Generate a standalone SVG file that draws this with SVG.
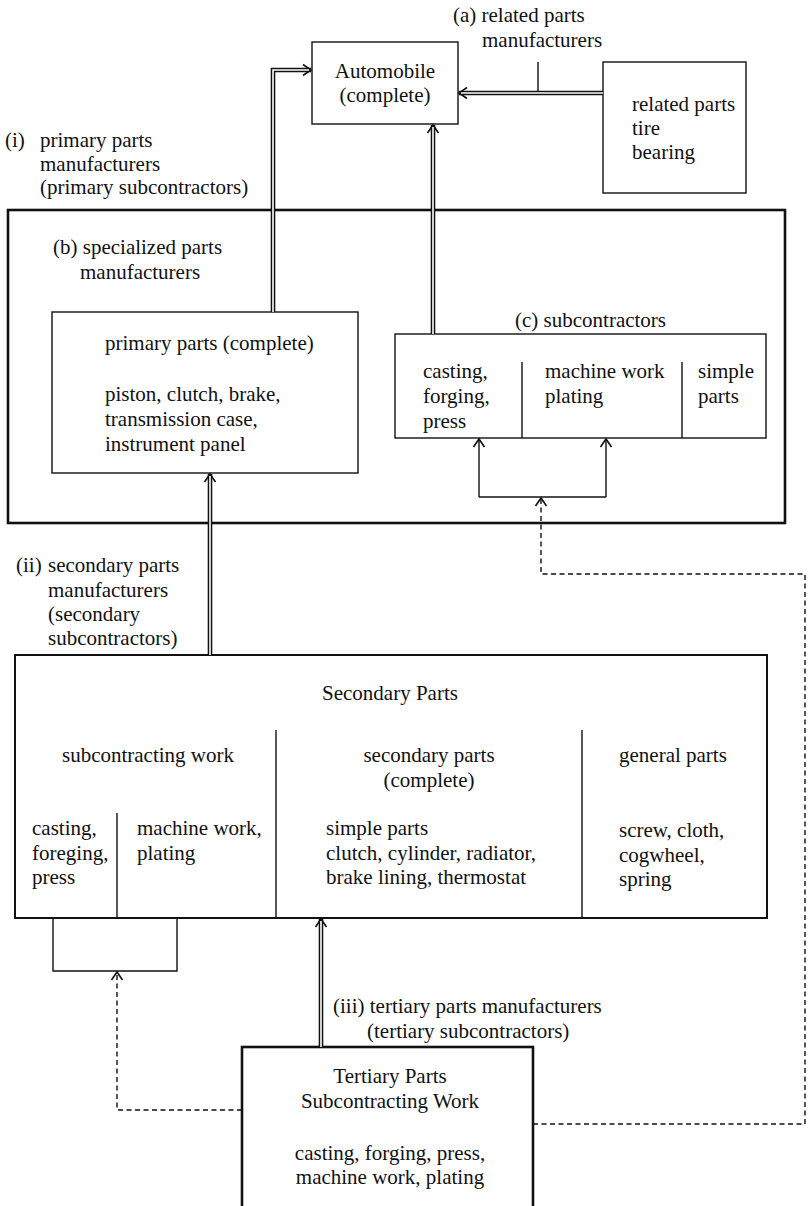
<svg xmlns="http://www.w3.org/2000/svg" width="809" height="1206" viewBox="0 0 809 1206">
<style>
.t{font-family:"Liberation Serif","Times New Roman",serif;font-size:21px;fill:#111}
.c{text-anchor:middle}
.box{fill:none;stroke:#111;stroke-width:1.4}
.thick{fill:none;stroke:#111;stroke-width:2.6}
.mid{fill:none;stroke:#111;stroke-width:2}
.div{fill:none;stroke:#111;stroke-width:1.4}
.dblo{fill:none;stroke:#111;stroke-width:4.6;stroke-linejoin:miter}
.dbli{fill:none;stroke:#fff;stroke-width:1.6;stroke-linejoin:miter}
.sl{fill:none;stroke:#111;stroke-width:1.4}
.dash{fill:none;stroke:#111;stroke-width:1.4;stroke-dasharray:5,3.5}
</style>
<defs>
<marker id="ah" markerUnits="userSpaceOnUse" markerWidth="20" markerHeight="20" viewBox="-12 -10 20 20" refX="0" refY="0" orient="auto">
<path d="M-8,-5.5 L0,0 L-8,5.5" fill="none" stroke="#111" stroke-width="1.6"/>
</marker>
</defs>
<rect width="809" height="1206" fill="#fff"/>

<g id="label-a">
<text class="t" x="453" y="22">(a) related parts</text>
<text class="t" x="482" y="47">manufacturers</text>
</g>
<g id="label-i">
<text class="t" x="5" y="147">(i) <tspan x="40">primary parts</tspan></text>
<text class="t" x="40" y="171">manufacturers</text>
<text class="t" x="40" y="194">(primary subcontractors)</text>
</g>
<g id="label-ii">
<text class="t" x="16" y="572">(ii) <tspan x="48">secondary parts</tspan></text>
<text class="t" x="48" y="597">manufacturers</text>
<text class="t" x="48" y="621">(secondary</text>
<text class="t" x="48" y="645">subcontractors)</text>
</g>
<g id="label-iii">
<text class="t" x="333" y="1013">(iii) tertiary parts manufacturers</text>
<text class="t" x="367" y="1038">(tertiary subcontractors)</text>
</g>

<g id="automobile">
<rect class="box" x="312" y="42" width="146" height="82"/>
<text class="t c" x="385" y="78">Automobile</text>
<text class="t c" x="385" y="102">(complete)</text>
</g>
<g id="related-parts">
<rect class="box" x="603" y="62" width="143" height="131"/>
<text class="t" x="632" y="111">related parts</text>
<text class="t" x="632" y="135">tire</text>
<text class="t" x="632" y="159">bearing</text>
</g>

<g id="primary-group">
<rect class="thick" x="8" y="210" width="777" height="313"/>
<text class="t" x="53" y="254">(b) specialized parts</text>
<text class="t" x="80" y="279">manufacturers</text>
</g>
<g id="primary-parts">
<rect class="box" x="52" y="312" width="306" height="161"/>
<text class="t" x="105" y="350">primary parts (complete)</text>
<text class="t" x="105" y="401">piston, clutch, brake,</text>
<text class="t" x="105" y="426">transmission case,</text>
<text class="t" x="105" y="451">instrument panel</text>
</g>
<g id="subcontractors">
<text class="t" x="515" y="327">(c) subcontractors</text>
<rect class="box" x="395" y="334" width="371" height="104"/>
<line class="div" x1="522" y1="362" x2="522" y2="438"/>
<line class="div" x1="682" y1="362" x2="682" y2="438"/>
<text class="t" x="423" y="378">casting,</text>
<text class="t" x="423" y="403">forging,</text>
<text class="t" x="423" y="428">press</text>
<text class="t" x="545" y="378">machine work</text>
<text class="t" x="545" y="403">plating</text>
<text class="t" x="698" y="378">simple</text>
<text class="t" x="698" y="403">parts</text>
</g>

<g id="secondary-parts">
<rect class="mid" x="15" y="655" width="752" height="263"/>
<text class="t c" x="390" y="700">Secondary Parts</text>
<line class="div" x1="276" y1="730" x2="276" y2="918"/>
<line class="div" x1="582" y1="730" x2="582" y2="918"/>
<line class="div" x1="117" y1="813" x2="117" y2="918"/>
<text class="t c" x="148" y="762">subcontracting work</text>
<text class="t c" x="429" y="762">secondary parts</text>
<text class="t c" x="429" y="787">(complete)</text>
<text class="t" x="619" y="762">general parts</text>
<text class="t" x="32" y="835">casting,</text>
<text class="t" x="32" y="860">foreging,</text>
<text class="t" x="32" y="884">press</text>
<text class="t" x="137" y="835">machine work,</text>
<text class="t" x="137" y="860">plating</text>
<text class="t" x="326" y="835">simple parts</text>
<text class="t" x="326" y="860">clutch, cylinder, radiator,</text>
<text class="t" x="326" y="884">brake lining, thermostat</text>
<text class="t" x="619" y="837">screw, cloth,</text>
<text class="t" x="619" y="862">cogwheel,</text>
<text class="t" x="619" y="886">spring</text>
</g>

<g id="tertiary-parts">
<rect class="thick" x="242" y="1047" width="291" height="170"/>
<text class="t c" x="390" y="1083">Tertiary Parts</text>
<text class="t c" x="390" y="1108">Subcontracting Work</text>
<text class="t c" x="390" y="1160">casting, forging, press,</text>
<text class="t c" x="390" y="1184">machine work, plating</text>
</g>

<g id="connectors">
<path class="dblo" d="M273,312 V70 H311" marker-end="url(#ah)"/>
<path class="dbli" d="M273,312 V70 H309"/>
<path class="dblo" d="M433,334 V125" marker-end="url(#ah)"/>
<path class="dbli" d="M433,334 V127"/>
<path class="dblo" d="M603,93 H459" marker-end="url(#ah)"/>
<path class="dbli" d="M603,93 H461"/>
<line class="sl" x1="538" y1="62" x2="538" y2="91"/>
<path class="dblo" d="M210,655 V474" marker-end="url(#ah)"/>
<path class="dbli" d="M210,655 V476"/>
<path class="dblo" d="M321,1047 V919" marker-end="url(#ah)"/>
<path class="dbli" d="M321,1047 V921"/>
<path class="sl" d="M479,497 V439" marker-end="url(#ah)"/>
<path class="sl" d="M606,497 V439" marker-end="url(#ah)"/>
<path class="sl" d="M479,497 H606"/>
<path class="sl" d="M53,918 V971 H177 V918"/>
<path class="dash" d="M533,1124 H805 V574 H541 V498" marker-end="url(#ah)"/>
<path class="dash" d="M242,1110 H117 V972" marker-end="url(#ah)"/>
</g>
</svg>
